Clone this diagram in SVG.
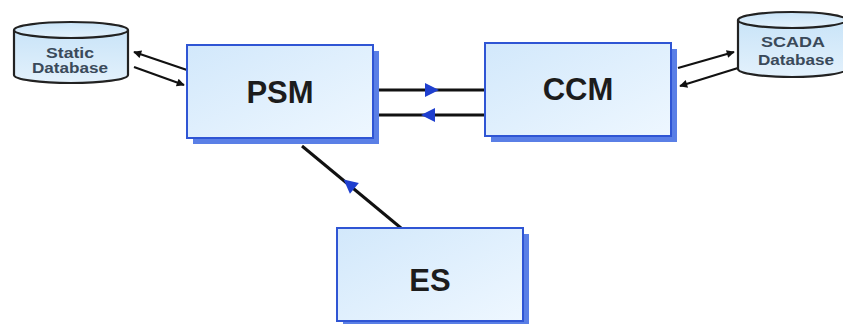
<svg xmlns="http://www.w3.org/2000/svg" width="843" height="324" viewBox="0 0 843 324">
  <defs>
    <linearGradient id="boxFill" x1="0" y1="0" x2="1" y2="1">
      <stop offset="0" stop-color="#d2e8fb"/>
      <stop offset="1" stop-color="#eef7ff"/>
    </linearGradient>
    <linearGradient id="dbFill" x1="0" y1="0" x2="0" y2="1">
      <stop offset="0" stop-color="#c9e4f8"/>
      <stop offset="1" stop-color="#e3f1fc"/>
    </linearGradient>
    <marker id="blackHead" viewBox="0 0 10 10" refX="9" refY="5" markerWidth="10" markerHeight="8" markerUnits="userSpaceOnUse" orient="auto">
      <path d="M0,0 L10,5 L0,10 Z" fill="#111"/>
    </marker>
    <path id="blueTip" d="M7,0 L-7,-7 L-7,7 Z" fill="#1f3fcf"/>
  </defs>
  <style>
    .shadow { fill: #5a7fe6; }
    .box { fill: url(#boxFill); stroke: #2f55d4; stroke-width: 2; }
    .label { font-family: "Liberation Sans", Arial, sans-serif; font-weight: bold; font-size: 31px; fill: #1c1c1c; text-anchor: middle; }
    .db { fill: url(#dbFill); stroke: #222; stroke-width: 2.2; }
    .dblabel { font-family: "Liberation Sans", Arial, sans-serif; font-weight: bold; font-size: 14px; fill: #3a4a5a; text-anchor: middle; }
    .link { stroke: #111; stroke-width: 3; fill: none; }
    .dblink { stroke: #111; stroke-width: 2.2; fill: none; }
  </style>

  <rect width="843" height="324" fill="#ffffff"/>

  <g id="connectors">
    <!-- PSM <-> CCM -->
    <line class="link" x1="378" y1="90" x2="485" y2="90"/>
    <use href="#blueTip" transform="translate(432,90)"/>
    <line class="link" x1="378" y1="115" x2="485" y2="115"/>
    <use href="#blueTip" transform="translate(428,115) rotate(180)"/>
    <!-- ES -> PSM -->
    <line class="link" x1="401" y1="228" x2="302" y2="146"/>
    <use href="#blueTip" transform="translate(349,184) rotate(219.6)"/>
    <!-- Static Database <-> PSM -->
    <line class="dblink" x1="187" y1="70" x2="134" y2="52" marker-end="url(#blackHead)"/>
    <line class="dblink" x1="134" y1="67" x2="184" y2="85" marker-end="url(#blackHead)"/>
    <!-- CCM <-> SCADA Database -->
    <line class="dblink" x1="678" y1="68" x2="734" y2="52" marker-end="url(#blackHead)"/>
    <line class="dblink" x1="738" y1="68" x2="680" y2="86" marker-end="url(#blackHead)"/>
  </g>

  <g id="psm">
    <rect class="shadow" x="193" y="51" width="186" height="93"/>
    <rect class="box" x="187" y="45" width="186" height="93"/>
    <text class="label" x="280" y="103">PSM</text>
  </g>

  <g id="ccm">
    <rect class="shadow" x="491" y="49" width="186" height="93"/>
    <rect class="box" x="485" y="43" width="186" height="93"/>
    <text class="label" x="578" y="100">CCM</text>
  </g>

  <g id="es">
    <rect class="shadow" x="343" y="234" width="186" height="93"/>
    <rect class="box" x="337" y="228" width="186" height="93"/>
    <text class="label" x="430" y="291">ES</text>
  </g>

  <g id="static-db">
    <path class="db" d="M14,30 L14,75 A57,8 0 0 0 128,75 L128,30"/>
    <ellipse class="db" cx="71" cy="30" rx="57" ry="8"/>
    <text class="dblabel" x="70" y="58" textLength="48" lengthAdjust="spacingAndGlyphs">Static</text>
    <text class="dblabel" x="70" y="73" textLength="76" lengthAdjust="spacingAndGlyphs">Database</text>
  </g>

  <g id="scada-db">
    <path class="db" d="M738,20 L738,69 A54,8 0 0 0 846,69 L846,20"/>
    <ellipse class="db" cx="792" cy="20" rx="54" ry="8"/>
    <text class="dblabel" x="793" y="47" textLength="64" lengthAdjust="spacingAndGlyphs">SCADA</text>
    <text class="dblabel" x="796" y="65" textLength="76" lengthAdjust="spacingAndGlyphs">Database</text>
  </g>
</svg>
